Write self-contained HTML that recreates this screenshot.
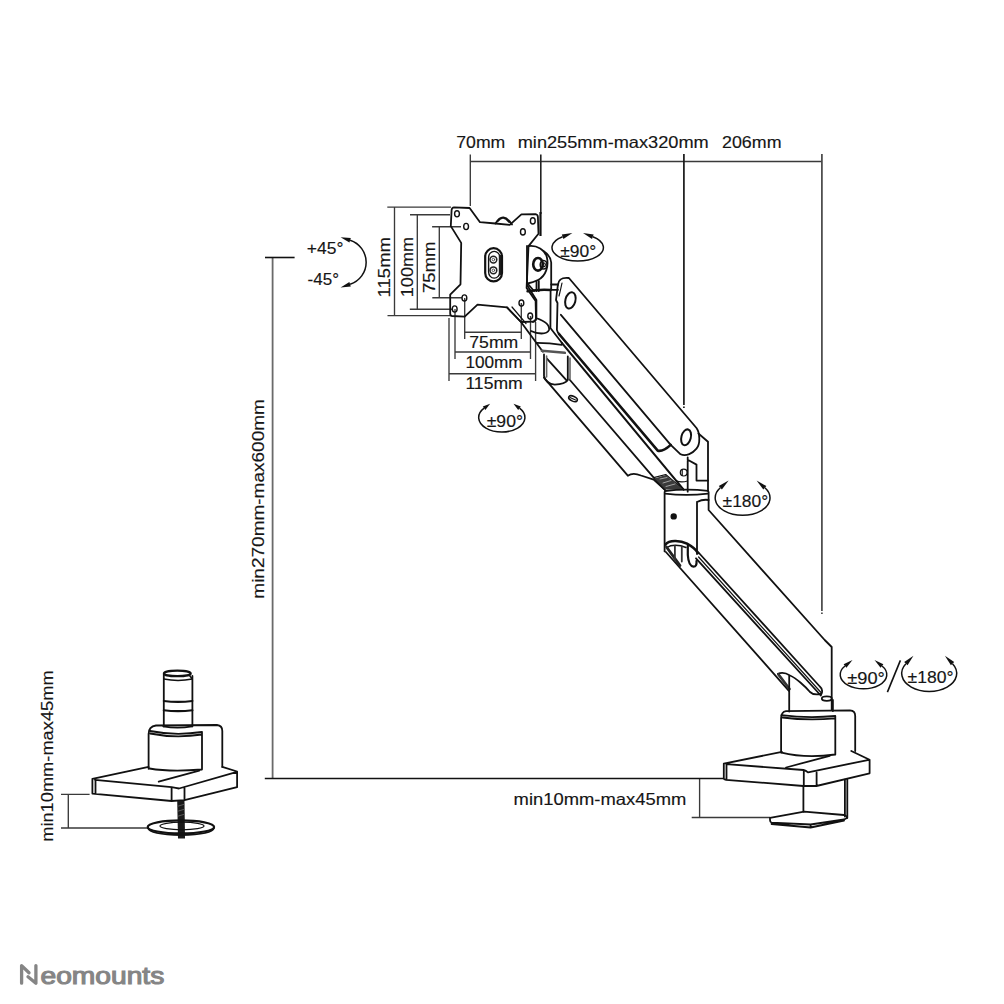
<!DOCTYPE html>
<html><head><meta charset="utf-8">
<style>
html,body{margin:0;padding:0;background:#fff;}
svg{display:block;}
text{font-family:"Liberation Sans",sans-serif;fill:#161616;stroke:#161616;stroke-width:0.15;}
.dim{stroke:#3a3a3a;stroke-width:1.35;fill:none;}
.ol{stroke:#111;stroke-width:1.8;fill:none;stroke-linejoin:round;stroke-linecap:round;}
.th{stroke:#111;stroke-width:1.2;fill:none;stroke-linecap:round;}
.tk{stroke:#111;stroke-width:2.6;fill:none;stroke-linecap:round;}
.gr{stroke:#666;stroke-width:1.0;fill:none;}
</style></head>
<body>
<svg width="1004" height="1004" viewBox="0 0 1004 1004">
<rect width="1004" height="1004" fill="#fff"/>
<text x="456.3" y="148" font-size="16.5" textLength="49" lengthAdjust="spacingAndGlyphs">70mm</text>
<text x="517.7" y="148" font-size="16.5" textLength="191" lengthAdjust="spacingAndGlyphs">min255mm-max320mm</text>
<text x="722" y="148" font-size="16.5" textLength="59.5" lengthAdjust="spacingAndGlyphs">206mm</text>
<text transform="translate(264,598.7) rotate(-90)" font-size="16.5" textLength="199.6" lengthAdjust="spacingAndGlyphs">min270mm-max600mm</text>
<text transform="translate(52.9,841.8) rotate(-90)" font-size="16.5" textLength="171.4" lengthAdjust="spacingAndGlyphs">min10mm-max45mm</text>
<text x="513.6" y="804.6" font-size="16.5" textLength="172.7" lengthAdjust="spacingAndGlyphs">min10mm-max45mm</text>
<text transform="translate(390.3,297.4) rotate(-90)" font-size="16.5" textLength="60.4" lengthAdjust="spacingAndGlyphs">115mm</text>
<text transform="translate(413.0,297.2) rotate(-90)" font-size="16.5" textLength="60.2" lengthAdjust="spacingAndGlyphs">100mm</text>
<text transform="translate(435.1,293.1) rotate(-90)" font-size="16.5" textLength="51.6" lengthAdjust="spacingAndGlyphs">75mm</text>
<text x="469.3" y="347.8" font-size="16.5" textLength="49" lengthAdjust="spacingAndGlyphs">75mm</text>
<text x="465.4" y="367.8" font-size="16.5" textLength="57.3" lengthAdjust="spacingAndGlyphs">100mm</text>
<text x="465.4" y="389.4" font-size="16.5" textLength="57.3" lengthAdjust="spacingAndGlyphs">115mm</text>
<text x="306.8" y="254.3" font-size="16.5" textLength="36.6" lengthAdjust="spacingAndGlyphs">+45°</text>
<text x="307.6" y="284.6" font-size="16.5" textLength="31.4" lengthAdjust="spacingAndGlyphs">-45°</text>
<text x="560.3" y="256.7" font-size="16.5" textLength="35.9" lengthAdjust="spacingAndGlyphs">±90°</text>
<text x="486.7" y="426.7" font-size="16.5" textLength="36.3" lengthAdjust="spacingAndGlyphs">±90°</text>
<text x="722.6" y="507.1" font-size="16.5" textLength="45.6" lengthAdjust="spacingAndGlyphs">±180°</text>
<text x="847.3" y="684.3" font-size="16.5" textLength="37.6" lengthAdjust="spacingAndGlyphs">±90°</text>
<text x="907.5" y="683" font-size="16.5" textLength="46" lengthAdjust="spacingAndGlyphs">±180°</text>
<path d="M21.6 983.2 V965.6 L29 972.8 M28 976.8 L35.9 983.2 V965.6" fill="none" stroke="#858585" stroke-width="3.3" stroke-linecap="round" stroke-linejoin="round"/>
<text x="40.5" y="983.5" font-size="23.5" style="fill:#858585;stroke:#858585;stroke-width:1.1" textLength="123.8" lengthAdjust="spacingAndGlyphs">eomounts</text>
<path class="dim" d="M470 161.5 H822 M470.3 154.5 V206
M691.7 817.5 H770 M699.6 778 V817.5
M61 794.3 H89.6 M61 828 H147.8 M68.3 794.3 V828
M387.3 207.1 H451 M394.5 207.1 V315.6 M387.5 315.6 H451
M410 214.7 H450 M417.3 214.7 V309.2 M409.8 309.2 H452
M432.1 226.7 H461 M439.3 226.7 V297.7 M432.3 297.7 H462
M464.7 298 V339 M521.3 303 V339 M464.7 332.2 H521.3
M455 309 V359 M530.5 316 V359 M455 352 H530.5
M449 318 V381 M535.6 322 V381 M449 373.7 H535.6"/>
<path d="M272.6 258 V778" stroke="#6a6a6a" stroke-width="1.8"/><path d="M265 257.5 H294.6" stroke="#111" stroke-width="1.6"/><path d="M264.8 778.4 H723.8" stroke="#111" stroke-width="1.5"/>
<path d="M540.8 154.5 V214" stroke="#222" stroke-width="1.6"/><path d="M540.5 212 V236" stroke="#111" stroke-width="2.2"/>
<path d="M683.9 154 V405 M683.9 406.5 V408" stroke="#1a1a1a" stroke-width="1.7"/>
<path d="M821.9 154 V611 M821.9 612.5 V614" stroke="#484848" stroke-width="1.7"/>
<path d="M350.1 240.3 A23.1 23.1 0 0 1 350.1 284.3" fill="none" stroke="#111" stroke-width="1.5"/><path d="M340.6 237.2 L350.8 238.1 L349.4 242.5 Z" fill="#111" stroke="none"/><path d="M340.6 287.4 L349.4 282.1 L350.8 286.5 Z" fill="#111" stroke="none"/><path d="M592.8 236.8 A25.7 13.4 0 1 1 562.6 236.8" fill="none" stroke="#111" stroke-width="1.5"/><path d="M583.0 233.0 L593.6 234.6 L592.0 238.9 Z" fill="#111" stroke="none"/><path d="M572.4 233.0 L563.4 238.9 L561.8 234.6 Z" fill="#111" stroke="none"/><path d="M519.5 408.2 A23.1 14.5 0 1 1 484.1 408.2" fill="none" stroke="#111" stroke-width="1.5"/><path d="M513.5 403.7 L520.8 406.5 L518.2 409.9 Z" fill="#111" stroke="none"/><path d="M490.1 403.7 L485.4 409.9 L482.8 406.5 Z" fill="#111" stroke="none"/><path d="M764.9 487.8 A27.4 17.4 0 1 1 720.3 487.8" fill="none" stroke="#111" stroke-width="1.5"/><path d="M756.6 480.6 L766.4 486.1 L763.3 489.6 Z" fill="#111" stroke="none"/><path d="M728.6 480.6 L721.9 489.6 L718.8 486.1 Z" fill="#111" stroke="none"/><path d="M882.0 666.0 A23.3 14.2 0 1 1 845.0 666.0" fill="none" stroke="#111" stroke-width="1.5"/><path d="M874.5 660.0 L883.4 664.2 L880.6 667.7 Z" fill="#111" stroke="none"/><path d="M852.5 660.0 L846.4 667.7 L843.6 664.2 Z" fill="#111" stroke="none"/><path d="M952.5 663.7 A27.5 18.1 0 1 1 905.9 663.7" fill="none" stroke="#111" stroke-width="1.5"/><path d="M944.9 655.7 L954.2 662.1 L950.9 665.3 Z" fill="#111" stroke="none"/><path d="M913.5 655.7 L907.5 665.3 L904.2 662.1 Z" fill="#111" stroke="none"/><path d="M887.4 692.1 L900.4 660.4" stroke="#111" stroke-width="1.6"/>
<g class="ol">
<path d="M454 207.3 L469.6 208 L480 222.2 L495.5 223.5 L509.7 224.8 L521.4 214.4 L535.5 214.2 Q537.8 214.6 537.9 217 L538.5 233.8 L528.5 246.1 L526.6 288 L535.6 301 L536 319 Q535.5 321.5 533 321.6 L521 322 L507 307.4 L477.5 304.7 L464.7 316.7 L452 316 Q450.2 315.8 450.2 313.5 L450.2 294.7 L460.5 284.3 L461.2 242.9 L450.8 226.1 L451.6 210 Q451.9 207.4 454 207.3 Z"/>
<path d="M495.5 223.5 Q503 211 512 224.5 M498 221 Q503 214 509 222" />
<ellipse cx="457" cy="213.8" rx="2.4" ry="3.1" style="stroke-width:1.4"/><ellipse cx="466.1" cy="226.5" rx="2.4" ry="3.1" style="stroke-width:1.4"/>
<ellipse cx="532.8" cy="220.9" rx="2.4" ry="3.1" style="stroke-width:1.4"/><ellipse cx="522.9" cy="231.9" rx="2.4" ry="3.1" style="stroke-width:1.4"/>
<ellipse cx="464.4" cy="298" rx="2.4" ry="3.1" style="stroke-width:1.4"/><ellipse cx="454.7" cy="309" rx="2.4" ry="3.1" style="stroke-width:1.4"/>
<ellipse cx="521.4" cy="303.1" rx="2.4" ry="3.1" style="stroke-width:1.4"/><ellipse cx="530.2" cy="316.1" rx="2.4" ry="3.1" style="stroke-width:1.4"/>
<path d="M485.2 256.6 A8.4 8.4 0 0 1 502 256.6 V273 A8.4 8.4 0 0 1 485.2 273 Z" fill="#fff" style="stroke-width:2.2"/>
<path d="M488.6 257.5 A5 5.5 0 0 1 499.8 257.5 V272 A5 5.5 0 0 1 488.6 272 Z" fill="#fff" style="stroke-width:1.4"/>
<path d="M500 256 V274" stroke="#1a1a1a" stroke-width="2.4"/>
<circle cx="493.4" cy="259.6" r="3.4" fill="#fff" stroke="#222" stroke-width="1.5"/><circle cx="493.4" cy="270.3" r="3.4" fill="#fff" stroke="#222" stroke-width="1.5"/>
<circle cx="493.4" cy="259.6" r="1.3" fill="none" stroke="#444" stroke-width="0.9"/><circle cx="493.4" cy="270.3" r="1.3" fill="none" stroke="#444" stroke-width="0.9"/>
<!-- tilt joint -->
<path d="M528.5 246.1 C537 245 545 250 546.8 257 C549 266 546 276 538 280 C534 282 530 283 527.5 283.5"/>
<path d="M543.5 251 C548 254 550.8 258 551.2 262.5 V289 M550.6 289.5 L550.4 328 L561.8 342.8"/>
<path d="M527 246 V285 L536.4 300 V317 Q536 321 533 322"/>
<ellipse cx="538" cy="264.3" rx="4.8" ry="6.3" style="stroke-width:2.6"/>
<ellipse cx="543.6" cy="264.8" rx="3.4" ry="4.3" style="stroke-width:1.5"/>
<ellipse cx="543.8" cy="264.8" rx="1.6" ry="2" class="th"/>
<path d="M527.5 291.3 Q540 289 550.8 290" style="stroke-width:2.4"/>
<path d="M528 284 L534 291 M536.5 281.5 V291 M538.8 281 V291 M551.2 284.5 H558 M551.2 289.8 H558"/>
<path d="M536 318 C545 321 550 325 549 330 C547 335 537 334 531 331"/>
</g>
<g class="ol">
<!-- cover plate -->
<path d="M557.9 284.9 C558.5 279 562 277.3 568.9 278 L696.5 428 C700 433 700.5 444 696.5 448.7 C693 453 686 457 680.6 454.3 L670.7 444.9"/>
<path d="M562 283 C561 288 560 292 559 296" class="th"/>
<path d="M557.9 284.9 L556 300 L557.5 303 L556.9 329.8 Q557.5 333 560 335"/>
<path d="M560.9 314.8 L670.7 444.9"/>
<path class="tk" d="M559 334 L657.7 450.7 Q663 452 670.7 444.9"/>
<ellipse cx="570.4" cy="300.4" rx="5" ry="8.3" transform="rotate(15 570.4 300.4)" style="stroke-width:2"/>
<ellipse cx="686.1" cy="437.3" rx="4.7" ry="8.1" transform="rotate(15 686.1 437.3)" style="stroke-width:2"/>
<!-- body lines -->
<path d="M561.8 342.8 L683.6 489.6" style="stroke-width:2.1"/>
<path d="M569.5 379.5 L653.7 477.7 L665 489.8"/>
<path d="M543.9 377.7 L627.8 475.7 C631 473.5 636 473.5 641 475.5 L653.7 479.7 L664.6 489.6"/>
<path d="M653.7 477.7 L665.7 474.5 L683.6 489.6" class="th"/>
<path d="M654.5 478.5 L665.7 475 L683 489.5 L665.5 489.5 Z" fill="#3a3a3a" stroke="none"/><path d="M660 479 L667 477.5 M663 483 L671 480.5 M666 486.5 L675 484" stroke="#bbb" stroke-width="0.8"/>
<!-- plate diagonal through bracket -->
<path d="M507 307.4 L521 322 L542.9 351.8 M546.9 358.7 L566.8 380.7"/>
<path d="M512 307 L526 323.5" class="th"/>
<!-- U bracket -->
<path d="M536.9 342.8 Q550 343 561.8 344.8" />
<path d="M541.9 350.8 L564.8 352.8" style="stroke:#555;stroke-width:2.6"/>
<path d="M544 354.5 V376 Q546 384 554.8 384.6 Q565 384 567.8 380 V356.5"/>
<path d="M546.6 356 V377" class="gr" style="stroke-width:1.6"/>
<path d="M570 358 V379" class="gr" style="stroke-width:1.6"/>
<ellipse cx="573" cy="398.7" rx="4.6" ry="2.4" transform="rotate(25 573 398.7)" style="stroke-width:1.6"/><path d="M570 397.5 L575.5 400" stroke="#111" stroke-width="1.2"/>
<!-- elbow joint -->
<path d="M698.4 433.5 L708 441.8 V491"/>
<path d="M687.7 457.5 V491.7 M687.7 459.8 L696.5 464.6 V480.6 H708"/>
<circle cx="683.7" cy="472.6" r="3.4" class="th"/><path d="M682.2 469.7 V475.5" class="th"/>
<path d="M675.8 480.6 Q681 483 687.5 481" class="th"/>
<path d="M665 491 Q686 488.5 708 490.8 M665 493.6 Q686 496 708 493.6" />
</g>
<g class="ol">
<path d="M664.6 492 V551.4 M708.6 492 V510 L824.7 640 L831.7 647 V709.7"/>
<path d="M697 502 V554 M697 502 Q703 499 708.6 500" />
<circle cx="673.7" cy="516.4" r="2.3" fill="#111"/>
<path d="M665.9 552 L788.9 690.8"/>
<path d="M696 558.3 L820.8 695.5 M698.5 552.5 L819.8 686.5 Q824 690 820.8 695.5" /><path d="M698.6 557 L821 692.5" class="th"/>
<path d="M665.5 544.5 C669 540 680 540 687 543.7 C692 546.5 696 549.5 698 553" style="stroke-width:2.6"/><path d="M667 547.5 C671 544.5 679 544.5 686 547.5" style="stroke-width:1.4"/>
<path d="M666.5 547 L680 565.6" style="stroke-width:2.8;stroke:#222"/>
<path d="M674.9 546 V560.5 M681.8 546.5 V561.5" style="stroke:#333;stroke-width:1.8"/>
<path d="M687.8 545.7 V555 Q688.5 566 693.5 566.6 Q697 566.5 696.5 561" style="stroke-width:2.2"/>
<!-- lower end crescent + post top -->
<path d="M777.9 673.9 C781 672.5 786 673 790 675.5 C796 678 805 686 810 692 C812 694 816 695 820.8 694" />
<path d="M778.5 674.5 L789.5 689" style="stroke-width:2.8;stroke:#333"/>
<ellipse cx="826.8" cy="698.6" rx="5" ry="2.3"/>
</g>
<g class="ol">
<path d="M789.2 676 V711.5 M832.9 700 V711"/>
<path d="M781.1 752.6 V718 Q781.3 712 786 711.2 L850 710.4 Q855.2 710.8 855.2 716 V751"/>
<path d="M781.5 715.2 Q808 718.5 835.3 716 M782.5 717.5 Q808 720.8 835.3 718.3 M835.3 716 V754.2 M781.5 752.6 Q805 758.5 835.3 754.5" />
<path d="M723.8 763.7 L781.9 751.8 M851.3 751 L869.6 759.8 V773.3 L816.4 786 M723.8 763.7 V778.5 Q724 779.5 726 779.8 L803.4 786 H816.4 M726.5 764.2 L803.5 770 Q806 770.5 808 772.3 L869 759.8 M803.8 770.5 V786 M816.6 772.4 V786 M786.1 767.5 L829.7 755.8 M726.5 764.2 V779.5"/>
<path d="M803.4 786 V811.6 M844.9 779.7 V816.5 M847.3 779.7 V817.9"/>
<path d="M770 817.9 L804.2 811.6 L844 815 Q847.5 816 847 818 L844.1 819.5 L810.6 824.5 L771.6 822.7 Q770 822 770 820 Z M771.6 822.7 V824 L810.6 827.5 L844.1 820.5 M810.6 824.5 V827.5"/>
</g>
<g class="ol">
<path d="M163.8 674 V726.4 M192.4 676 V726.4"/>
<ellipse cx="177.3" cy="673.4" rx="13.4" ry="2.8" style="stroke-width:2.2"/>
<path d="M163.8 679 Q178 681.8 192.3 679 L189.5 675.5" class="th" style="stroke-width:1.5"/>
<path d="M163.8 701 Q178 702.8 192.4 701" style="stroke-width:2.1"/>
<path d="M163.8 710.3 Q178 712 192.4 710.3" style="stroke-width:2.1"/>
<path d="M163.3 726.4 Q177.6 729 191.9 726.4" />
<path d="M148.6 768.8 V734 Q148.6 726.5 156 725.5 L217 725 Q222.3 725.5 222.3 731 V766.9"/>
<path d="M150 731 Q175 736 202 732 M150 733.5 Q175 738.5 202 734.5 M202 732 V768.8 M149.5 768.5 Q170 772 202 769.5"/>
<path d="M92.4 778.9 L148.6 766.9 M222.3 766.9 L237.1 771.5 V787.2 L184.5 800.1 M92.4 778.9 V793.6 L171.6 801 L184.5 800.1 M95.5 779.5 V793.8 M95 779.8 L171.6 787.2 Q176 788 179 788.5 L237 771.8 M171.6 787.2 V801 M184.5 788 V800.1 M158.7 781.7 L199.3 770.6"/>
<path d="M177.2 801 L178 838.5 L185 838.5 L184.5 801 Z" fill="#1a1a1a" stroke="none"/>
<path d="M178.5 806 L183.5 804.5 M178.5 811 L183.5 809.5 M178.5 816 L183.5 814.5" stroke="#777" stroke-width="0.7"/>
<ellipse cx="180.9" cy="826.9" rx="33.2" ry="6.5" style="stroke-width:2.2"/>
<path d="M148 828 Q150 834.5 181 835 Q212 834.5 214 828" />
<ellipse cx="182" cy="826" rx="22" ry="3.8" class="th"/>
</g>
</svg>
</body></html>
